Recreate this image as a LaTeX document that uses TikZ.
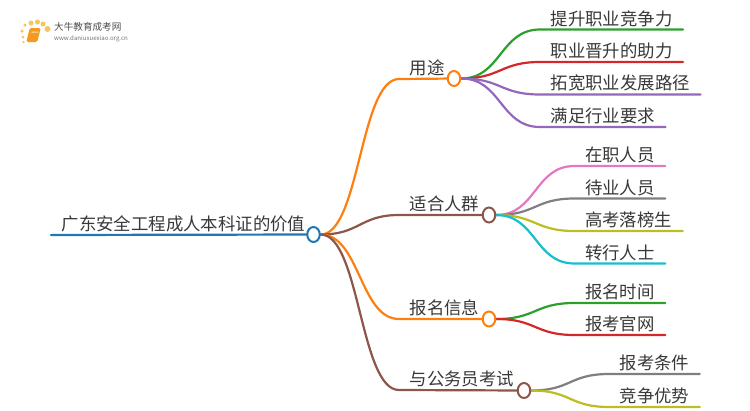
\documentclass[tikz,border=0pt]{standalone}
\usepackage{fontspec}
\setmainfont{Noto Sans CJK SC}
\usetikzlibrary{shapes.geometric,backgrounds}
\definecolor{lblue}{HTML}{1F77B4}
\definecolor{lorange}{HTML}{FF7F0E}
\definecolor{lgreen}{HTML}{2CA02C}
\definecolor{lred}{HTML}{D62728}
\definecolor{lpurple}{HTML}{9467BD}
\definecolor{lbrown}{HTML}{8C564B}
\definecolor{lpink}{HTML}{E377C2}
\definecolor{lgrey}{HTML}{7F7F7F}
\definecolor{lolive}{HTML}{BCBD22}
\definecolor{lcyan}{HTML}{17BECF}
\definecolor{logoorange}{HTML}{F39A1F}
\definecolor{logodot}{HTML}{F8C45C}
\begin{document}
\begin{tikzpicture}[x=1pt,y=-1pt,
  item/.style={anchor=south west,inner xsep=10.4pt,inner ysep=2.8pt,text=black!78,
               font=\fontsize{17.4pt}{20pt}\selectfont},
  knob/.style={ellipse,fill=white,line width=2pt,inner sep=0pt,minimum width=12.5pt,
               minimum height=15pt},
  l/.style={line width=2.2pt,line cap=round},
  dot/.style={circle,fill=logodot,inner sep=0pt,minimum size=#1},
  dot/.default=5pt]
\useasboundingbox (0,0) rectangle (750,410);

\node[item](root) at (51,235){广东安全工程成人本科证的价值};
\node[item](use) at (399,79){用途};
\node[item](crowd) at (399,215){适合人群};
\node[item](sign) at (399,319){报名信息};
\node[item](exam) at (399,390){与公务员考试};

\node[item](u1) at (540,29.5){提升职业竞争力};
\node[item](u2) at (540,62){职业晋升的助力};
\node[item](u3) at (540,94.5){拓宽职业发展路径};
\node[item](u4) at (540,127){满足行业要求};
\node[item](c1) at (574.5,166){在职人员};
\node[item](c2) at (574.5,198.5){待业人员};
\node[item](c3) at (574.5,231){高考落榜生};
\node[item](c4) at (574.5,263.5){转行人士};
\node[item](s1) at (574.5,303){报名时间};
\node[item](s2) at (574.5,335){报考官网};
\node[item](e1) at (609,374){报考条件};
\node[item](e2) at (609,407){竞争优势};

\node[knob,draw=lblue,fill=white](kroot) at (313.5,234.5){};
\node[knob,draw=lorange](kuse) at (454,78.5){};
\node[knob,draw=lbrown](kcrowd) at (489,215){};
\node[knob,draw=lorange](ksign) at (489,319){};
\node[knob,draw=lbrown](kexam) at (524,390.5){};

\begin{scope}[on background layer]
 \draw[l,lblue](root.south west)--(kroot.center);
 \draw[l,lorange](kroot.east) .. controls +(39,0) and +(-39,0) .. (use.south west)--(kuse.center);
 \draw[l,lbrown](kroot.east) .. controls +(39,0) and +(-39,0) .. (crowd.south west)--(kcrowd.center);
 \draw[l,lorange](kroot.east) .. controls +(39,0) and +(-39,0) .. (sign.south west)--(ksign.center);
 \draw[l,lbrown](kroot.east) .. controls +(39,0) and +(-39,0) .. (exam.south west)--(kexam.center);
 \draw[l,lgreen](kuse.east) .. controls +(40,0) and +(-40,0) .. (u1.south west)--(u1.south east);
 \draw[l,lred](kuse.east) .. controls +(40,0) and +(-40,0) .. (u2.south west)--(u2.south east);
 \draw[l,lpurple](kuse.east) .. controls +(40,0) and +(-40,0) .. (u3.south west)--(u3.south east);
 \draw[l,lpurple](kuse.east) .. controls +(40,0) and +(-40,0) .. (u4.south west)--(u4.south east);
 \draw[l,lpink](kcrowd.east) .. controls +(40,0) and +(-40,0) .. (c1.south west)--(c1.south east);
 \draw[l,lgrey](kcrowd.east) .. controls +(40,0) and +(-40,0) .. (c2.south west)--(c2.south east);
 \draw[l,lolive](kcrowd.east) .. controls +(40,0) and +(-40,0) .. (c3.south west)--(c3.south east);
 \draw[l,lcyan](kcrowd.east) .. controls +(40,0) and +(-40,0) .. (c4.south west)--(c4.south east);
 \draw[l,lgreen](ksign.east) .. controls +(40,0) and +(-40,0) .. (s1.south west)--(s1.south east);
 \draw[l,lred](ksign.east) .. controls +(40,0) and +(-40,0) .. (s2.south west)--(s2.south east);
 \draw[l,lgrey](kexam.east) .. controls +(40,0) and +(-40,0) .. (e1.south west)--(e1.south east);
 \draw[l,lolive](kexam.east) .. controls +(40,0) and +(-40,0) .. (e2.south west)--(e2.south east);
\end{scope}

% logo
\node[dot=3.5pt](d1) at (25,25){}; \node[dot](d2) at (31,23){}; \node[dot](d3) at (37.5,22){};
\node[dot](d4) at (43,24){}; \node[dot=6pt](d5) at (47.5,29){}; \node[dot=3.5pt](d6) at (22,31){};
\node[dot=3pt](d7) at (23,37){}; \node[dot=2.5pt](d8) at (23.5,42){};
\node[fill=logoorange,rounded corners=1.5pt,minimum width=11pt,minimum height=14pt,inner sep=0pt,
      xslant=0.25](book) at (33.5,35){};
\node[fill=white!70!logoorange,minimum width=7pt,minimum height=1pt,inner sep=0pt,xslant=0.25](mark) at (35,32){};
\node[anchor=west,inner sep=0pt,text=black!70,font=\fontsize{9.6pt}{11pt}\selectfont](brand) at (54,27){大牛教育成考网};
\node[anchor=west,inner sep=0pt,text=black!55,font=\fontsize{6.1pt}{7pt}\selectfont](site) at (54,39){www.daniuxuexiao.org.cn};
\end{tikzpicture}
\end{document}
